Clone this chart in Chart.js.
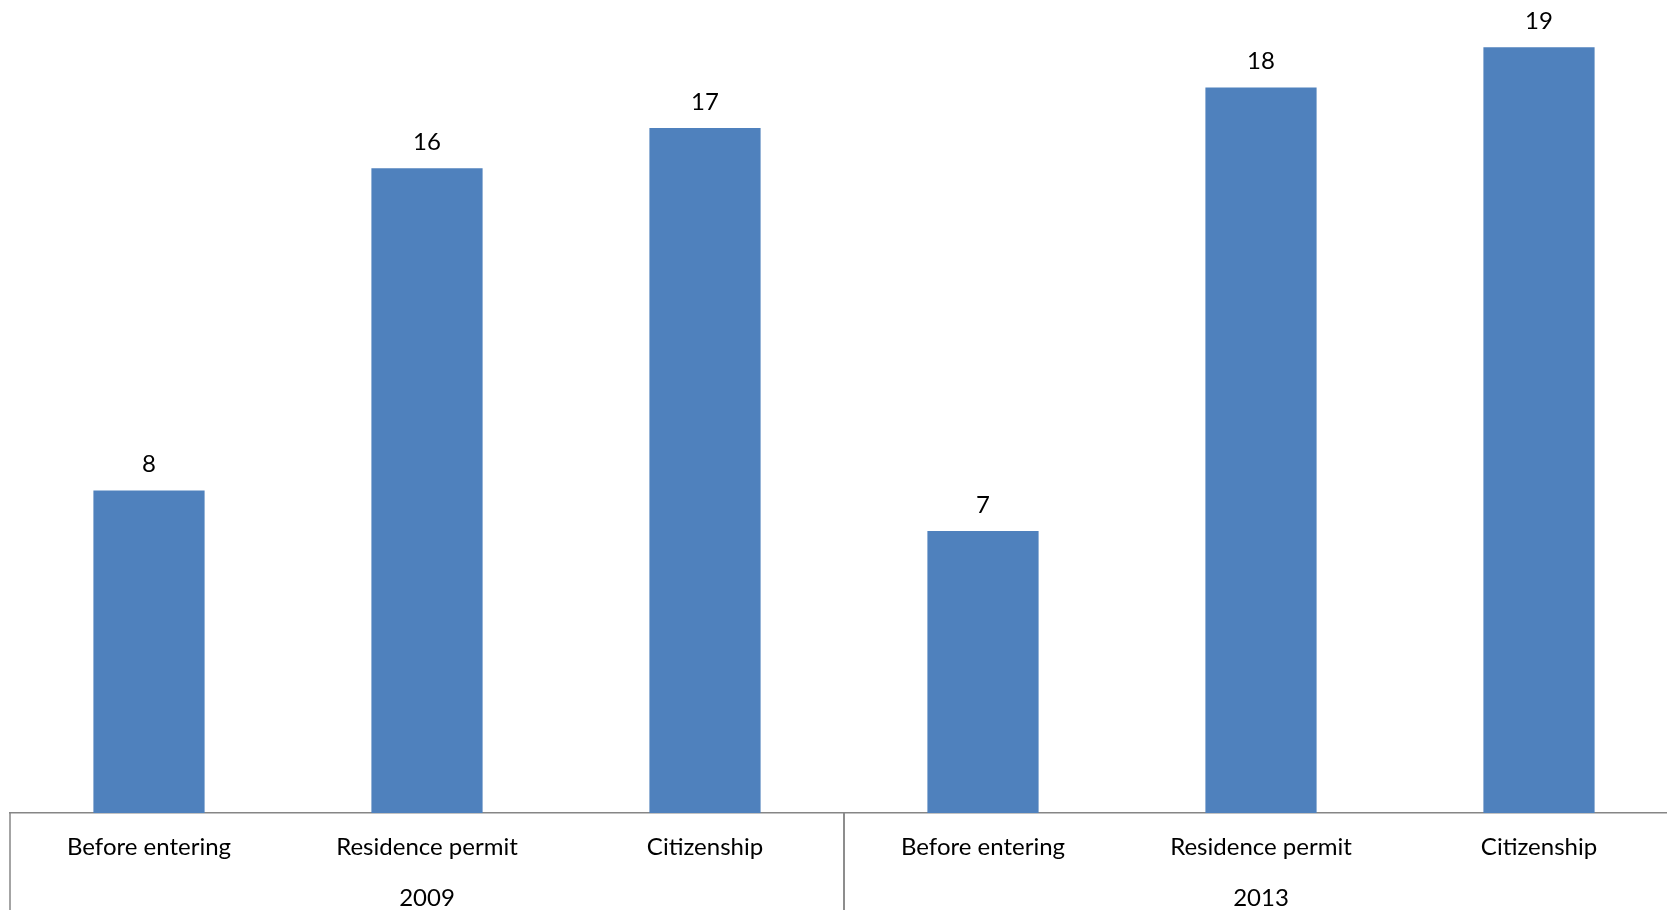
<!DOCTYPE html>
<html lang="en">
<head>
    <meta charset="UTF-8">
    <title>Before entering / Residence permit / Citizenship</title>
    <script src="https://cdn.jsdelivr.net/npm/chart.js"></script>
    <style>
        html, body {
            margin: 0;
            padding: 0;
            background: #fff;
            overflow: hidden;
        }
        .wrap {
            width: 1678px; /* plot runs a little past the right edge, as in the original */
            height: 910px;
        }
    </style>
</head>
<body>

<div class="wrap">
    <canvas id="stageChart"></canvas>
</div>

<script>
    // categories and values
    const stages = ['Before entering', 'Residence permit', 'Citizenship',
                    'Before entering', 'Residence permit', 'Citizenship'];
    const years = ['2009', '2013'];
    const groupSize = 3;
    const values = [8, 16, 17, 7, 18, 19];

    const fontFamily = 'Lato, "Noto Sans", sans-serif';
    const labelFont = '24px ' + fontFamily;
    const lineColor = '#868686';

    // value labels above each bar
    const valueLabels = {
        id: 'valueLabels',
        afterDatasetsDraw(chart) {
            const ctx = chart.ctx;
            const meta = chart.getDatasetMeta(0);
            ctx.save();
            ctx.font = labelFont;
            ctx.fillStyle = '#000';
            ctx.textAlign = 'center';
            ctx.textBaseline = 'middle';
            meta.data.forEach((bar, i) => {
                ctx.fillText(values[i], bar.x, bar.y - 26);
            });
            ctx.restore();
        }
    };

    // second level of the category axis: year labels and group dividers
    const groupAxis = {
        id: 'groupAxis',
        afterDraw(chart) {
            const ctx = chart.ctx;
            const x = chart.scales.x;
            const top = x.top;
            const bottom = chart.height;
            const half = (x.getPixelForValue(1) - x.getPixelForValue(0)) / 2;
            ctx.save();
            ctx.strokeStyle = lineColor;
            ctx.lineWidth = 1.5;
            ctx.font = labelFont;
            ctx.fillStyle = '#000';
            ctx.textAlign = 'center';
            ctx.textBaseline = 'middle';
            years.forEach((yr, g) => {
                const first = g * groupSize;
                const last = first + groupSize - 1;
                const left = x.getPixelForValue(first) - half;
                const right = x.getPixelForValue(last) + half;
                ctx.beginPath();
                ctx.moveTo(left, top);
                ctx.lineTo(left, bottom);
                ctx.moveTo(right, top);
                ctx.lineTo(right, bottom);
                ctx.stroke();
                ctx.fillText(yr, (left + right) / 2, top + 85);
            });
            ctx.restore();
        }
    };

    new Chart(document.getElementById('stageChart'), {
        type: 'bar',
        data: {
            labels: stages,
            datasets: [{
                data: values,
                backgroundColor: '#4F81BD',
                categoryPercentage: 1,
                barPercentage: 0.4
            }]
        },
        options: {
            responsive: true,
            maintainAspectRatio: false,
            animation: false,
            layout: {
                padding: { top: 7, left: 10, right: 0, bottom: 0 }
            },
            plugins: {
                legend: { display: false },
                tooltip: { enabled: false }
            },
            scales: {
                y: {
                    display: false,
                    min: 0,
                    max: 20
                },
                x: {
                    grid: { display: false },
                    border: { display: true, color: lineColor, width: 1.5 },
                    ticks: {
                        color: '#000',
                        font: { family: fontFamily, size: 24 },
                        padding: 12,
                        maxRotation: 0,
                        autoSkip: false
                    },
                    afterFit(scale) {
                        scale.height = 97;
                    }
                }
            }
        },
        plugins: [valueLabels, groupAxis]
    });
</script>

</body>
</html>
